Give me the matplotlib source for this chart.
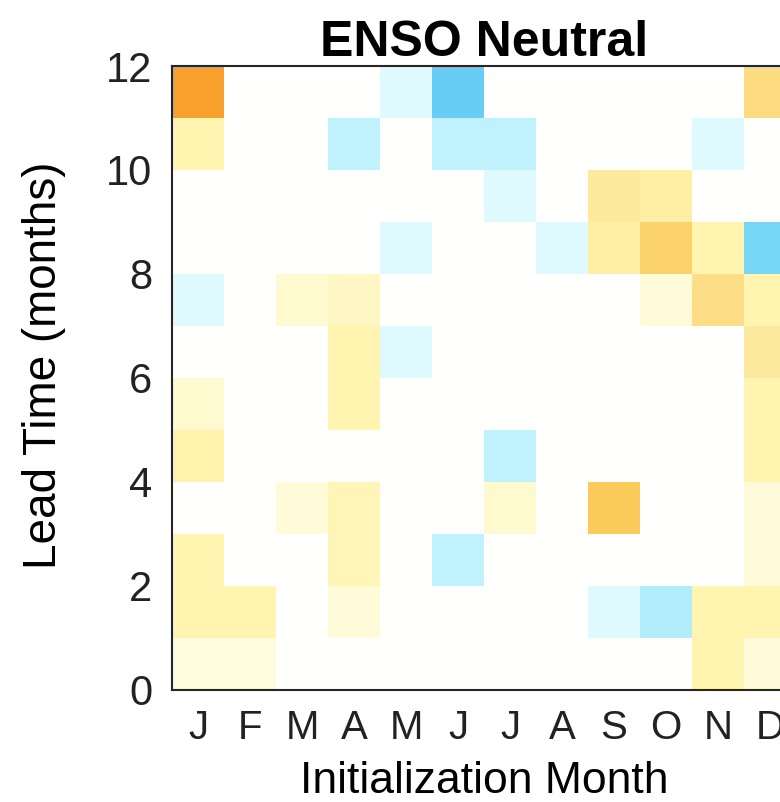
import numpy as np
import matplotlib
matplotlib.use('Agg')
import matplotlib.pyplot as plt
from matplotlib.colors import LinearSegmentedColormap

months = ['J', 'F', 'M', 'A', 'M', 'J', 'J', 'A', 'S', 'O', 'N', 'D']
leads = list(range(12))
yticks = [0, 2, 4, 6, 8, 10, 12]

# one row per lead time (bottom -> top), columns are init months J..D
lead0 = [0.08, 0.08, 0, 0, 0, 0, 0, 0, 0, 0, 0.2, 0.1]
lead1 = [0.2, 0.2, 0, 0.1, 0, 0, 0, 0, -0.15, -0.35, 0.2, 0.2]
lead2 = [0.2, 0, 0, 0.18, 0, -0.3, 0, 0, 0, 0, 0, 0.1]
lead3 = [0, 0, 0.1, 0.18, 0, 0, 0.12, 0, 0.55, 0, 0, 0.1]
lead4 = [0.22, 0, 0, 0, 0, 0, -0.3, 0, 0, 0, 0, 0.2]
lead5 = [0.12, 0, 0, 0.2, 0, 0, 0, 0, 0, 0, 0, 0.2]
lead6 = [0, 0, 0, 0.2, -0.15, 0, 0, 0, 0, 0, 0, 0.3]
lead7 = [-0.15, 0, 0.12, 0.15, 0, 0, 0, 0, 0, 0.1, 0.42, 0.2]
lead8 = [0, 0, 0, 0, -0.15, 0, 0, -0.15, 0.25, 0.5, 0.2, -0.55]
lead9 = [0, 0, 0, 0, 0, 0, -0.15, 0, 0.3, 0.25, 0, 0]
lead10 = [0.2, 0, 0, -0.3, 0, -0.3, -0.3, 0, 0, 0, -0.15, 0]
lead11 = [0.8, 0, 0, 0, -0.15, -0.62, 0, 0, 0, 0, 0, 0.45]

grid = np.array([lead0, lead1, lead2, lead3, lead4, lead5,
                 lead6, lead7, lead8, lead9, lead10, lead11])

cmap = LinearSegmentedColormap.from_list('enso', [
    (0.0, '#2FA8EC'),
    (0.2, '#6BCFF6'),
    (0.25, '#86DDF8'),
    (0.35, '#C0F2FC'),
    (0.425, '#DFFAFE'),
    (0.5, '#FFFFFF'),
    (0.55, '#FFFBD8'),
    (0.6, '#FFF4B0'),
    (0.65, '#FEEA9C'),
    (0.725, '#FDDB80'),
    (0.775, '#FBCB5C'),
    (0.9, '#F9A02C'),
    (1.0, '#F07F1F'),
])

plt.rcParams['font.family'] = ['Liberation Sans', 'DejaVu Sans']

fig = plt.figure(figsize=(7.8, 8.02), dpi=100)
ax = fig.add_axes([0.2205, 0.1397, 0.8, 0.778])

ax.pcolormesh(np.arange(13), np.arange(13), grid, cmap=cmap, vmin=-1, vmax=1)
ax.set_xlim(0, 12)
ax.set_ylim(0, 12)

ax.set_xticks(np.arange(12) + 0.5)
ax.set_xticklabels(months)
ax.set_yticks(yticks)
ax.tick_params(axis='both', length=0, labelsize=29, colors='#222222')
ax.tick_params(axis='y', labelsize=30)
ax.tick_params(axis='x', pad=14)
ax.tick_params(axis='y', pad=14)

for s in ax.spines.values():
    s.set_color('#262626')
    s.set_linewidth(1.5)

ax.set_title('ENSO Neutral', fontsize=36, fontweight='bold', pad=7)
ax.set_xlabel('Initialization Month', fontsize=32, labelpad=10)
ax.set_ylabel('Lead Time (months)', fontsize=33)
ax.yaxis.set_label_coords(-0.17, 0.52)

fig.savefig('out.png', dpi=100)
